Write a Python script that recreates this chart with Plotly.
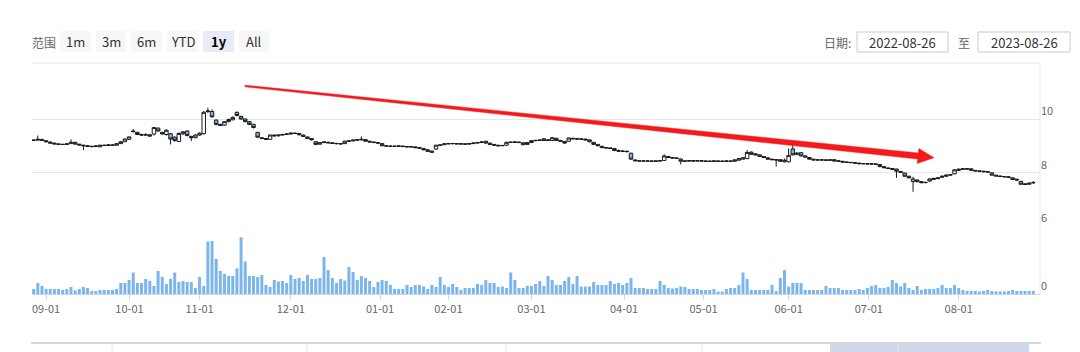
import pandas as pd
import plotly.graph_objects as go

W, H = 1080, 352

# ---------------- data ----------------
holidays = ["2022-09-12", "2022-10-03", "2022-10-04", "2022-10-05", "2022-10-06", "2022-10-07",
            "2023-01-02", "2023-01-23", "2023-01-24", "2023-01-25", "2023-01-26", "2023-01-27",
            "2023-04-05", "2023-05-01", "2023-05-02", "2023-05-03", "2023-06-22", "2023-06-23"]
trade_days = pd.bdate_range("2022-08-26", "2023-08-25")
trade_days = trade_days[~trade_days.isin(pd.to_datetime(holidays))]
dates = [d.strftime("%Y-%m-%d") for d in trade_days]

open_ = [
    9.22, 9.20, 9.21, 9.24, 9.19, 9.14, 9.10, 9.07, 9.05, 9.05,
    9.08, 9.13, 9.06, 9.02, 9.00, 8.98, 8.97, 8.96, 9.02, 9.01,
    9.03, 9.02, 9.08, 9.15, 9.24, 9.55, 9.50, 9.42, 9.40, 9.41,
    9.44, 9.66, 9.50, 9.42, 9.45, 9.32, 9.16, 9.45, 9.55, 9.35,
    9.30, 9.40, 9.45, 10.28, 10.28, 9.96, 9.80, 9.77, 9.90, 9.97,
    10.25, 10.10, 10.00, 9.90, 9.80, 9.50, 9.30, 9.27, 9.24, 9.40,
    9.37, 9.40, 9.42, 9.44, 9.47, 9.46, 9.40, 9.33, 9.27, 9.15,
    9.06, 9.12, 9.13, 9.11, 9.09, 9.08, 9.08, 9.17, 9.18, 9.21,
    9.22, 9.23, 9.17, 9.14, 9.12, 9.08, 9.00, 8.99, 8.98, 8.98,
    8.99, 8.97, 8.96, 8.96, 8.93, 8.90, 8.85, 8.80, 8.88, 9.01,
    9.04, 9.07, 9.08, 9.08, 9.07, 9.07, 9.06, 9.08, 9.10, 9.12,
    9.17, 9.10, 9.05, 9.02, 9.00, 9.02, 9.13, 9.13, 9.14, 9.11,
    9.05, 9.12, 9.19, 9.20, 9.26, 9.22, 9.20, 9.28, 9.20, 9.16,
    9.17, 9.28, 9.26, 9.25, 9.25, 9.22, 9.13, 9.05, 8.98, 8.93,
    8.92, 8.90, 8.82, 8.80, 8.79, 8.72, 8.47, 8.44, 8.43, 8.43,
    8.43, 8.42, 8.43, 8.45, 8.60, 8.56, 8.54, 8.50, 8.42, 8.43,
    8.44, 8.43, 8.44, 8.43, 8.42, 8.42, 8.43, 8.42, 8.42, 8.43,
    8.42, 8.46, 8.50, 8.52, 8.76, 8.70, 8.66, 8.60, 8.55, 8.50,
    8.48, 8.48, 8.40, 8.40, 8.88, 8.68, 8.74, 8.62, 8.56, 8.50,
    8.47, 8.47, 8.47, 8.46, 8.48, 8.44, 8.42, 8.39, 8.38, 8.37,
    8.35, 8.33, 8.33, 8.32, 8.32, 8.30, 8.22, 8.17, 8.15, 8.13,
    8.04, 7.98, 7.86, 7.66, 7.72, 7.66, 7.62, 7.68, 7.74, 7.77,
    7.82, 7.86, 7.90, 7.95, 8.08, 8.12, 8.14, 8.14, 8.08, 8.06,
    8.05, 8.03, 7.99, 7.90, 7.87, 7.85, 7.84, 7.80, 7.75, 7.67,
    7.58, 7.56, 7.62,
]
high = [
    9.24, 9.23, 9.38, 9.25, 9.20, 9.15, 9.11, 9.08, 9.07, 9.09,
    9.24, 9.14, 9.07, 9.04, 9.02, 9.00, 9.01, 9.04, 9.04, 9.05,
    9.05, 9.10, 9.17, 9.27, 9.35, 9.62, 9.52, 9.45, 9.47, 9.42,
    9.70, 9.68, 9.52, 9.62, 9.48, 9.35, 9.50, 9.55, 9.58, 9.37,
    9.42, 9.50, 10.30, 10.42, 10.36, 9.98, 9.82, 9.92, 10.02, 10.10,
    10.28, 10.12, 10.02, 9.92, 9.82, 9.52, 9.32, 9.28, 9.42, 9.42,
    9.42, 9.45, 9.46, 9.49, 9.49, 9.47, 9.41, 9.34, 9.28, 9.17,
    9.14, 9.16, 9.15, 9.12, 9.10, 9.10, 9.19, 9.20, 9.23, 9.24,
    9.35, 9.24, 9.18, 9.15, 9.13, 9.09, 9.01, 9.00, 9.00, 9.01,
    9.00, 8.98, 8.98, 8.97, 8.94, 8.91, 8.86, 8.82, 9.04, 9.05,
    9.09, 9.10, 9.10, 9.09, 9.09, 9.08, 9.10, 9.12, 9.14, 9.18,
    9.18, 9.11, 9.06, 9.03, 9.03, 9.15, 9.15, 9.16, 9.15, 9.12,
    9.14, 9.21, 9.22, 9.23, 9.28, 9.24, 9.33, 9.29, 9.21, 9.17,
    9.31, 9.30, 9.28, 9.28, 9.26, 9.23, 9.14, 9.06, 8.99, 8.95,
    8.93, 8.91, 8.86, 8.84, 8.83, 8.74, 8.48, 8.46, 8.45, 8.45,
    8.44, 8.45, 8.46, 8.68, 8.62, 8.58, 8.56, 8.53, 8.45, 8.46,
    8.45, 8.46, 8.45, 8.44, 8.44, 8.45, 8.44, 8.44, 8.45, 8.45,
    8.49, 8.54, 8.58, 8.84, 8.79, 8.72, 8.67, 8.61, 8.56, 8.51,
    8.50, 8.49, 8.52, 8.90, 9.03, 8.76, 8.76, 8.64, 8.57, 8.51,
    8.49, 8.49, 8.48, 8.49, 8.49, 8.45, 8.43, 8.40, 8.39, 8.38,
    8.36, 8.35, 8.34, 8.34, 8.33, 8.31, 8.23, 8.18, 8.16, 8.14,
    8.05, 7.99, 7.88, 7.84, 7.74, 7.68, 7.65, 7.78, 7.80, 7.82,
    7.88, 7.92, 7.94, 8.13, 8.15, 8.16, 8.16, 8.15, 8.09, 8.07,
    8.06, 8.04, 8.00, 7.91, 7.88, 7.86, 7.85, 7.81, 7.76, 7.68,
    7.60, 7.62, 7.68,
]
low = [
    9.18, 9.18, 9.20, 9.18, 9.13, 9.08, 9.05, 9.03, 9.03, 9.04,
    9.07, 9.05, 9.01, 8.84, 8.95, 8.94, 8.95, 8.95, 8.99, 9.00,
    9.00, 9.01, 9.07, 9.14, 9.22, 9.50, 9.40, 9.38, 9.38, 9.34,
    9.38, 9.53, 9.42, 9.38, 9.05, 9.15, 9.14, 9.40, 9.36, 9.17,
    9.28, 9.38, 9.42, 10.22, 10.05, 9.76, 9.74, 9.75, 9.88, 9.95,
    10.10, 9.97, 9.88, 9.77, 9.65, 9.30, 9.25, 9.22, 9.22, 9.35,
    9.35, 9.39, 9.40, 9.42, 9.44, 9.39, 9.33, 9.25, 9.20, 9.02,
    9.04, 9.10, 9.09, 9.07, 9.05, 9.05, 9.07, 9.15, 9.17, 9.19,
    9.20, 9.15, 9.12, 9.10, 9.08, 8.98, 8.97, 8.96, 8.96, 8.97,
    8.95, 8.94, 8.94, 8.91, 8.89, 8.83, 8.77, 8.74, 8.84, 8.99,
    9.03, 9.06, 9.06, 9.05, 9.05, 9.04, 9.05, 9.07, 9.09, 9.11,
    9.08, 9.03, 9.00, 8.98, 8.99, 9.00, 9.11, 9.12, 9.10, 9.02,
    9.04, 9.11, 9.17, 9.18, 9.18, 9.18, 9.18, 9.18, 9.15, 9.08,
    9.15, 9.24, 9.23, 9.23, 9.20, 9.13, 9.03, 8.98, 8.91, 8.90,
    8.88, 8.80, 8.77, 8.76, 8.76, 8.48, 8.42, 8.41, 8.41, 8.41,
    8.40, 8.41, 8.42, 8.44, 8.54, 8.52, 8.51, 8.30, 8.40, 8.41,
    8.41, 8.42, 8.41, 8.40, 8.40, 8.41, 8.40, 8.40, 8.41, 8.40,
    8.41, 8.45, 8.49, 8.50, 8.66, 8.64, 8.58, 8.54, 8.48, 8.46,
    8.22, 8.40, 8.38, 8.38, 8.64, 8.64, 8.60, 8.56, 8.48, 8.45,
    8.45, 8.45, 8.44, 8.45, 8.41, 8.40, 8.37, 8.36, 8.35, 8.33,
    8.31, 8.31, 8.30, 8.30, 8.29, 8.20, 8.16, 8.13, 8.10, 7.80,
    7.98, 7.84, 7.78, 7.28, 7.63, 7.60, 7.60, 7.66, 7.72, 7.75,
    7.80, 7.84, 7.88, 7.93, 8.06, 8.10, 8.11, 8.06, 8.04, 8.03,
    8.01, 8.00, 7.88, 7.85, 7.83, 7.82, 7.80, 7.72, 7.70, 7.54,
    7.53, 7.55, 7.58,
]
close = [
    9.20, 9.21, 9.24, 9.20, 9.15, 9.10, 9.07, 9.05, 9.05, 9.07,
    9.13, 9.06, 9.03, 9.00, 8.98, 8.97, 8.99, 9.02, 9.01, 9.03,
    9.02, 9.08, 9.15, 9.25, 9.33, 9.53, 9.42, 9.40, 9.41, 9.36,
    9.68, 9.55, 9.44, 9.58, 9.25, 9.20, 9.46, 9.52, 9.38, 9.30,
    9.40, 9.47, 10.25, 10.30, 10.08, 9.80, 9.76, 9.90, 9.98, 10.06,
    10.13, 10.00, 9.90, 9.80, 9.68, 9.32, 9.27, 9.24, 9.40, 9.37,
    9.40, 9.42, 9.44, 9.47, 9.46, 9.41, 9.35, 9.27, 9.22, 9.05,
    9.12, 9.14, 9.11, 9.09, 9.08, 9.07, 9.17, 9.18, 9.21, 9.22,
    9.24, 9.17, 9.14, 9.12, 9.10, 9.00, 8.99, 8.98, 8.98, 8.99,
    8.97, 8.96, 8.96, 8.93, 8.91, 8.85, 8.79, 8.76, 9.02, 9.03,
    9.07, 9.08, 9.08, 9.07, 9.07, 9.06, 9.08, 9.10, 9.12, 9.14,
    9.10, 9.05, 9.02, 9.00, 9.01, 9.13, 9.13, 9.14, 9.12, 9.04,
    9.12, 9.19, 9.20, 9.21, 9.20, 9.20, 9.30, 9.20, 9.17, 9.10,
    9.29, 9.26, 9.25, 9.25, 9.22, 9.15, 9.05, 9.00, 8.93, 8.92,
    8.90, 8.82, 8.80, 8.79, 8.78, 8.50, 8.44, 8.43, 8.43, 8.43,
    8.42, 8.43, 8.44, 8.62, 8.56, 8.54, 8.53, 8.42, 8.43, 8.44,
    8.43, 8.44, 8.43, 8.42, 8.42, 8.43, 8.42, 8.42, 8.43, 8.42,
    8.47, 8.52, 8.55, 8.75, 8.68, 8.66, 8.60, 8.56, 8.50, 8.48,
    8.47, 8.42, 8.46, 8.64, 8.66, 8.72, 8.62, 8.58, 8.50, 8.47,
    8.47, 8.47, 8.46, 8.47, 8.43, 8.42, 8.39, 8.38, 8.37, 8.35,
    8.33, 8.33, 8.32, 8.32, 8.31, 8.22, 8.18, 8.15, 8.12, 8.05,
    8.00, 7.86, 7.80, 7.76, 7.66, 7.62, 7.63, 7.76, 7.78, 7.80,
    7.86, 7.90, 7.92, 8.10, 8.12, 8.14, 8.13, 8.08, 8.06, 8.05,
    8.03, 8.02, 7.90, 7.87, 7.85, 7.84, 7.82, 7.74, 7.72, 7.56,
    7.55, 7.60, 7.62,
]
volume = [
    50, 50, 110, 80, 50, 50, 50, 50, 40, 50,
    70, 35, 50, 70, 60, 30, 30, 40, 40, 40,
    40, 50, 110, 110, 140, 215, 110, 110, 150, 130,
    80, 230, 170, 100, 150, 215, 120, 130, 120, 120,
    60, 170, 80, 525, 530, 350, 230, 200, 180, 180,
    256, 567, 325, 180, 180, 170, 190, 90, 70, 140,
    125, 130, 110, 190, 150, 160, 130, 190, 150, 150,
    160, 370, 240, 160, 110, 150, 135, 270, 220, 140,
    180, 160, 130, 70, 120, 140, 130, 90, 50, 50,
    50, 90, 70, 90, 90, 75, 50, 90, 70, 170,
    90, 70, 100, 70, 40, 60, 60, 60, 100, 90,
    140, 110, 110, 70, 75, 60, 215, 140, 60, 60,
    80, 80, 100, 130, 80, 180, 140, 90, 90, 130,
    170, 100, 180, 75, 75, 75, 120, 90, 90, 90,
    130, 100, 110, 90, 110, 160, 60, 60, 60, 50,
    50, 50, 130, 90, 60, 55, 60, 75, 70, 50,
    50, 50, 40, 40, 40, 50, 25, 25, 50, 60,
    60, 90, 215, 150, 40, 40, 40, 40, 40, 90,
    30, 160, 240, 75, 110, 110, 110, 40, 40, 40,
    40, 40, 80, 60, 60, 60, 40, 40, 40, 40,
    50, 40, 60, 80, 90, 60, 60, 70, 140, 110,
    75, 110, 60, 40, 80, 40, 50, 50, 50, 60,
    90, 60, 60, 90, 60, 40, 30, 30, 30, 25,
    30, 40, 30, 25, 25, 25, 30, 40, 30, 30,
    30, 30, 30,
]

month_starts = pd.date_range("2022-09-01", "2023-08-01", freq="MS")
tick_text = [m.strftime("%m-%d") for m in month_starts]


def ordinal_pos(m):
    k = int(trade_days.searchsorted(m))
    if trade_days[k] == m:
        return float(k)
    p, n = trade_days[k - 1], trade_days[k]
    return k - 1 + (m - p) / (n - p)


tick_vals = [ordinal_pos(m) for m in month_starts]

# ---------------- helpers for pixel layout ----------------
def px(x):
    return x / W


def py(y):
    return 1 - y / H


FONT = "Noto Sans CJK SC, Noto Sans, sans-serif"


def label(text, x, y, size=12, color="#666666"):
    return dict(text=text, x=px(x), y=py(y), xref="paper", yref="paper",
                xanchor="center", yanchor="middle", showarrow=False,
                font=dict(family=FONT, size=size, color=color))


fig = go.Figure()
fig.add_trace(go.Candlestick(
    x=dates, open=open_, high=high, low=low, close=close,
    increasing=dict(line=dict(color="#1a1a1a", width=1), fillcolor="#ffffff"),
    decreasing=dict(line=dict(color="#1a1a1a", width=1), fillcolor="#7cb5ec"),
    whiskerwidth=0, xaxis="x", yaxis="y", showlegend=False, hoverinfo="skip",
))
fig.add_trace(go.Bar(
    x=dates, y=volume, marker=dict(color="#7cb5ec", line=dict(width=0)),
    xaxis="x2", yaxis="y2", showlegend=False, hoverinfo="skip",
))

xr = [0.6, 243.6]
fig.update_layout(
    width=W, height=H, template="none",
    margin=dict(l=0, r=0, t=0, b=0, pad=0),
    paper_bgcolor="#ffffff", plot_bgcolor="#ffffff",
    font=dict(family=FONT, size=11, color="#666666"),
    bargap=0.28, boxgap=0.16, boxgroupgap=0, showlegend=False,
    xaxis=dict(type="category", domain=[px(32), px(1040)], range=xr, anchor="y",
               showticklabels=False, showgrid=False, zeroline=False, showline=False,
               ticks="", rangeslider=dict(visible=False)),
    xaxis2=dict(type="category", domain=[px(32), px(1040)], range=xr, anchor="y2",
                matches="x", showgrid=False, zeroline=False,
                showline=True, linecolor="#ccd6eb", linewidth=1,
                tickmode="array", tickvals=tick_vals, ticktext=tick_text,
                ticks="outside", ticklen=5, tickcolor="#ccd6eb", tickwidth=1,
                tickfont=dict(size=11, color="#666666")),
    yaxis=dict(domain=[py(226), py(63)], range=[6, 6 + 163 / 26.75], side="right",
               anchor="x", tickmode="array", tickvals=[6, 8, 10],
               showgrid=True, gridcolor="#e6e6e6", gridwidth=1, zeroline=False,
               showline=False, ticks="", ticklabelposition="outside top",
               tickfont=dict(size=11, color="#666666")),
    yaxis2=dict(domain=[py(294), py(226)], range=[0, 680], side="right",
                anchor="x2", tickmode="array", tickvals=[0], showgrid=False,
                zeroline=False, showline=False, ticks="",
                ticklabelposition="outside top",
                tickfont=dict(size=11, color="#666666")),
)

shapes = []
annots = []

# top border of chart area and right edge
shapes.append(dict(type="line", xref="paper", yref="paper", x0=px(32), x1=px(1040),
                   y0=py(63), y1=py(63), line=dict(color="#e6e6e6", width=1)))
shapes.append(dict(type="line", xref="paper", yref="paper", x0=px(1040), x1=px(1040),
                   y0=py(63), y1=py(294), line=dict(color="#e3e8f2", width=1)))

# range selector
annots.append(label("范围", 44, 42, 12, "#666666"))
buttons = [("1m", 60, 91), ("3m", 96, 126), ("6m", 131, 162), ("YTD", 167, 198),
           ("1y", 203, 234), ("All", 239, 269)]
for name, x0, x1 in buttons:
    sel = name == "1y"
    shapes.append(dict(type="rect", xref="paper", yref="paper", x0=px(x0), x1=px(x1),
                       y0=py(52), y1=py(31), line=dict(width=0),
                       fillcolor="#e6ebf5" if sel else "#f7f7f7", layer="below"))
    annots.append(label(f"<b>{name}</b>" if sel else name, (x0 + x1) / 2, 41.5, 13,
                        "#000000" if sel else "#333333"))

# date inputs
annots.append(label("日期:", 837, 42, 12, "#666666"))
annots.append(label("至", 964, 42, 12, "#666666"))
for txt, x0, x1 in [("2022-08-26", 857, 948), ("2023-08-26", 978, 1070)]:
    shapes.append(dict(type="rect", xref="paper", yref="paper", x0=px(x0), x1=px(x1),
                       y0=py(52), y1=py(32), line=dict(color="#cccccc", width=1),
                       fillcolor="#ffffff", layer="below"))
    annots.append(label(txt, (x0 + x1) / 2, 42, 13, "#333333"))

# red tapered arrow
arrow_pts = [(245.1, 85.2), (918.3, 153.0), (918.8, 148.5), (934.0, 157.7),
             (917.2, 163.5), (917.7, 159.0), (244.9, 86.8)]
path = "M " + " L ".join(f"{px(x):.5f},{py(y):.5f}" for x, y in arrow_pts) + " Z"
shapes.append(dict(type="path", xref="paper", yref="paper", path=path,
                   fillcolor="#f5191c", line=dict(color="#f5191c", width=0.5)))

# navigator (cut off at the bottom)
shapes.append(dict(type="rect", xref="paper", yref="paper", x0=px(830), x1=px(1029),
                   y0=py(352), y1=py(344), fillcolor="#d0d9ec", line=dict(width=0)))
for xv in [112, 307, 506, 702, 898]:
    shapes.append(dict(type="line", xref="paper", yref="paper", x0=px(xv), x1=px(xv),
                       y0=py(344), y1=py(352), line=dict(color="#e6e6e6", width=1)))
shapes.append(dict(type="line", xref="paper", yref="paper", x0=px(31), x1=px(1041),
                   y0=py(343), y1=py(343), line=dict(color="#d6d6d6", width=2)))

fig.update_layout(shapes=shapes, annotations=annots)

fig.write_html("out.html", config=dict(displayModeBar=False, staticPlot=True))
